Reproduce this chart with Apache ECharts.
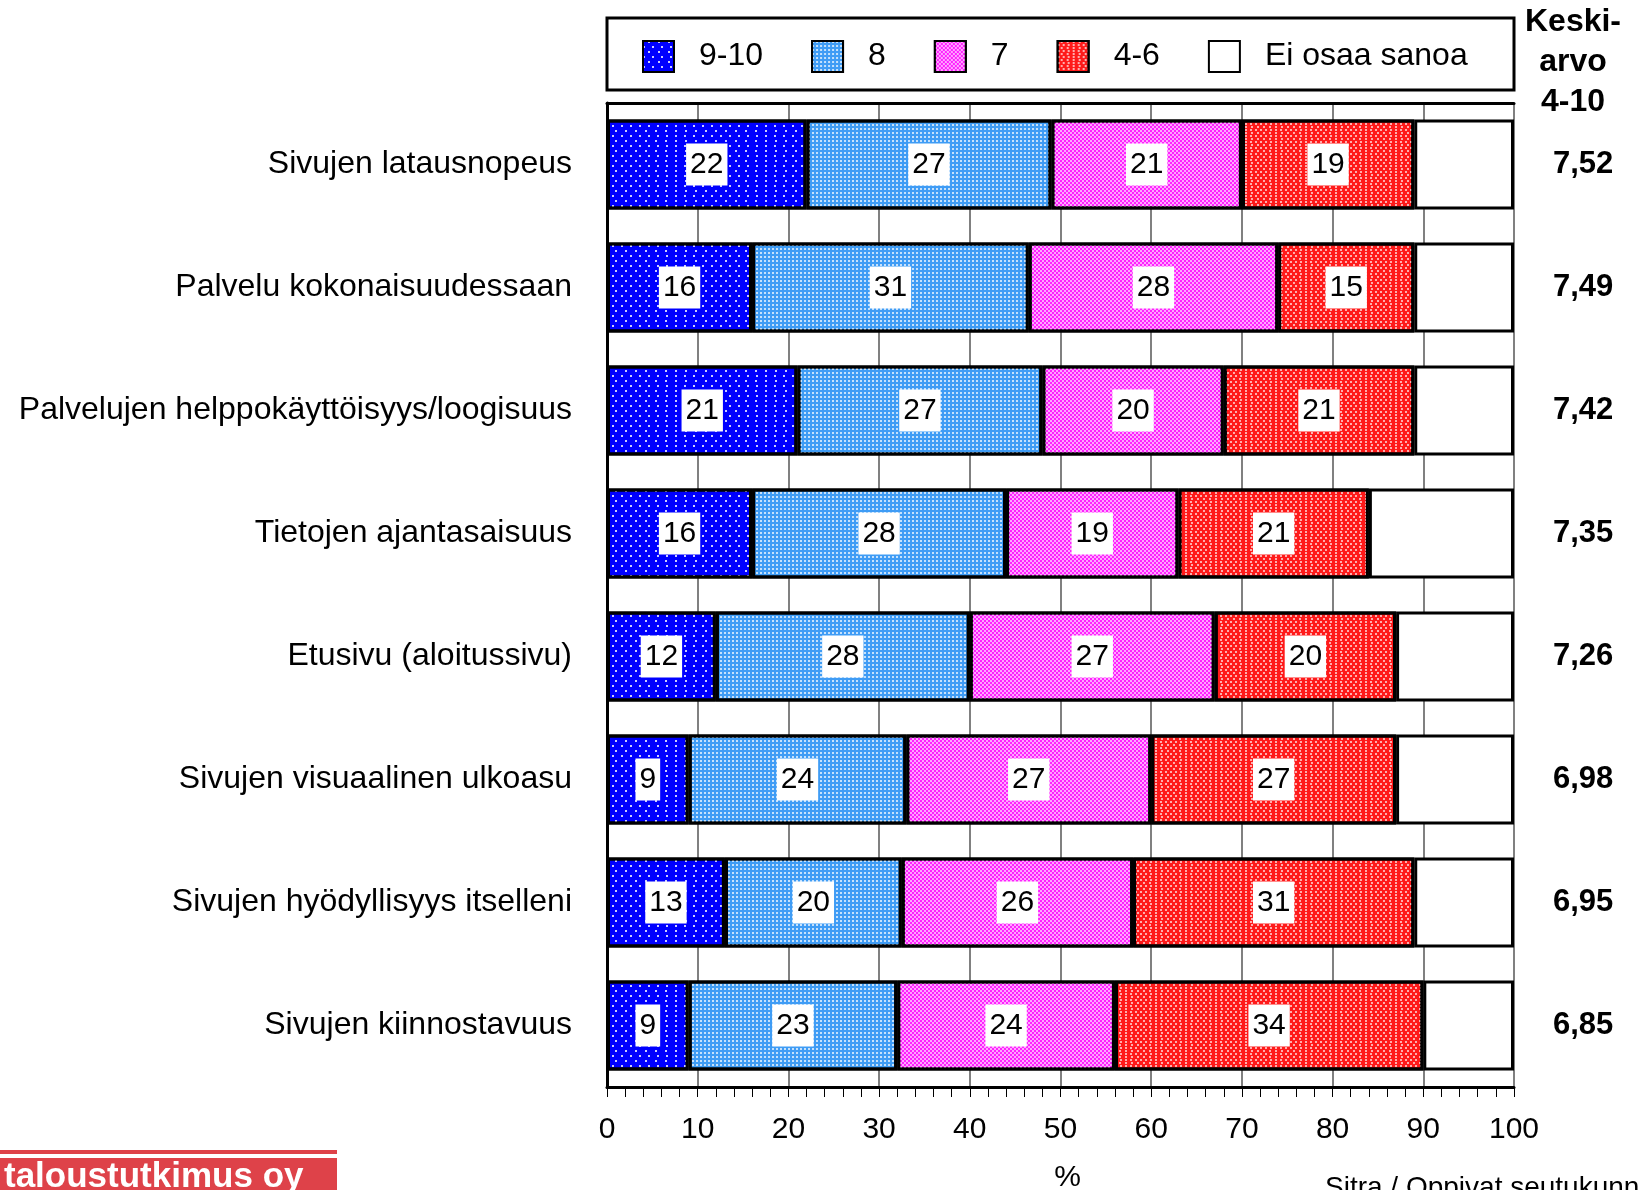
<!DOCTYPE html>
<html>
<head>
<meta charset="utf-8">
<script src="https://cdn.jsdelivr.net/npm/echarts@6/dist/echarts.min.js"></script>
<style>
html,body{margin:0;padding:0;background:#fff;}
#chart{width:1639px;height:1190px;}
</style>
</head>
<body>
<div id="chart"></div>
<script>
const categories = [
  "Sivujen latausnopeus",
  "Palvelu kokonaisuudessaan",
  "Palvelujen helppokäyttöisyys/loogisuus",
  "Tietojen ajantasaisuus",
  "Etusivu (aloitussivu)",
  "Sivujen visuaalinen ulkoasu",
  "Sivujen hyödyllisyys itselleni",
  "Sivujen kiinnostavuus"
];
const seriesNames = ["9-10", "8", "7", "4-6", "Ei osaa sanoa"];
const v910 = [22, 16, 21, 16, 12, 9, 13, 9];
const v8 = [27, 30.5, 27, 28, 28, 24, 19.5, 23];
const v7 = [21, 27.5, 20, 19, 27, 27, 25.5, 24];
const v46 = [19, 15, 21, 21, 20, 27, 31, 34];
const vEos = [11, 11, 11, 16, 13, 13, 11, 10];
const means = ["7,52", "7,49", "7,42", "7,35", "7,26", "6,98", "6,95", "6,85"];
const xTicks = [0, 10, 20, 30, 40, 50, 60, 70, 80, 90, 100];

const FONT = "'Liberation Sans', Arial, sans-serif";

const decals = [
  {symbol: 'rect', symbolSize: 1, color: 'rgba(255,255,255,0.8)', dashArrayX: [[2, 7], [0, 4.5, 2, 2.5]], dashArrayY: [2, 3]},
  {symbol: 'rect', symbolSize: 1, color: 'rgba(255,255,255,0.7)', dashArrayX: [2, 2], dashArrayY: [2, 2]},
  {symbol: 'rect', symbolSize: 1, color: 'rgba(255,255,255,0.6)', dashArrayX: [[2, 2], [0, 2, 2, 0]], dashArrayY: [2, 0]},
  {symbol: 'rect', symbolSize: 1, color: 'rgba(255,200,200,0.85)', dashArrayX: [[2, 3], [0, 2.5, 2, 0.5]], dashArrayY: [2, 1]},
  null
];
const colors = ['#0000FF', '#3F9CF5', '#FF22FF', '#FF1A1A', '#FFFFFF'];
const values = [v910, v8, v7, v46, vEos];

const series = seriesNames.map((name, i) => {
  const s = {
    name: name,
    type: 'bar',
    stack: 'total',
    barCategoryGap: '27%',
    data: values[i],
    itemStyle: {color: colors[i], borderColor: '#000', borderWidth: 3},
    label: {
      show: i < 4,
      position: 'inside',
      formatter: p => String(Math.round(p.value)),
      color: '#000',
      fontSize: 30,
      fontFamily: FONT,
      backgroundColor: '#fff',
      padding: [8, 4, 4, 4]
    },
    emphasis: {disabled: true}
  };
  if (decals[i]) s.itemStyle.decal = decals[i];
  return s;
});

const chart = echarts.init(document.getElementById('chart'), null, {renderer: 'canvas'});
chart.setOption({
  animation: false,
  textStyle: {fontFamily: FONT, color: '#000'},
  grid: {left: 607, right: 125, top: 103, bottom: 103, containLabel: false, outerBoundsMode: 'none'},
  legend: {
    data: seriesNames,
    left: 637,
    top: 35,
    itemWidth: 31,
    itemHeight: 31,
    itemGap: 48,
    icon: 'rect',
    textStyle: {fontSize: 32, color: '#000', fontFamily: FONT, padding: [0, 0, 0, 20]},
    selectedMode: false
  },
  xAxis: [{
    type: 'value',
    min: 0, max: 100, interval: 10,
    position: 'bottom',
    name: '%',
    nameLocation: 'middle',
    nameGap: 76,
    nameTextStyle: {fontSize: 30, color: '#000', fontFamily: FONT, padding: [0, 0, 0, 14]},
    axisLine: {show: true, lineStyle: {color: '#000', width: 3}},
    axisTick: {show: true, length: 10, lineStyle: {color: '#000', width: 1}},
    minorTick: {show: true, splitNumber: 5, length: 10, lineStyle: {color: '#000', width: 1}},
    axisLabel: {fontSize: 30, color: '#000', margin: 28, fontFamily: FONT,
      formatter: v => xTicks.indexOf(v) >= 0 ? String(v) : ''},
    splitLine: {show: true, lineStyle: {color: '#808080', width: 2}}
  }, {
    type: 'value',
    min: 0, max: 100, interval: 10,
    position: 'top',
    axisLine: {show: true, lineStyle: {color: '#000', width: 3}},
    axisTick: {show: false},
    axisLabel: {show: false},
    splitLine: {show: false}
  }],
  yAxis: [{
    type: 'category',
    data: categories,
    inverse: true,
    axisLine: {show: true, lineStyle: {color: '#000', width: 3}},
    axisTick: {show: false},
    axisLabel: {fontSize: 32, color: '#000', margin: 35, fontFamily: FONT, padding: [12, 0, 0, 0]}
  }, {
    type: 'category',
    data: means,
    inverse: true,
    position: 'right',
    axisLine: {show: false},
    axisTick: {show: false},
    axisLabel: {fontSize: 31, color: '#000', margin: 39, fontWeight: 'bold', fontFamily: FONT, padding: [12, 0, 0, 0]}
  }],
  graphic: [
    {type: 'rect', z: -1, shape: {x: 607, y: 18, width: 907, height: 72},
      style: {fill: '#fff', stroke: '#000', lineWidth: 3}},
    {type: 'text', x: 1573, y: 2, z: 10,
      style: {text: 'Keski-\narvo\n4-10', fontSize: 32, fontWeight: 'bold', fontFamily: FONT,
        fill: '#000', lineHeight: 40, align: 'center'}},
    {type: 'rect', shape: {x: 0, y: 1150, width: 337, height: 4}, style: {fill: '#DE4249'}},
    {type: 'rect', shape: {x: 0, y: 1158, width: 337, height: 32}, style: {fill: '#DE4249'}},
    {type: 'text', x: 4, y: 1160, style: {text: 'taloustutkimus oy', fontSize: 35, fontWeight: 'bold',
      fontFamily: FONT, fill: '#fff'}},
    {type: 'text', x: 1325, y: 1174, style: {text: 'Sitra / Oppivat seutukunnat', fontSize: 28,
      fontFamily: FONT, fill: '#000'}}
  ],
  series: series
});
</script>
</body>
</html>
